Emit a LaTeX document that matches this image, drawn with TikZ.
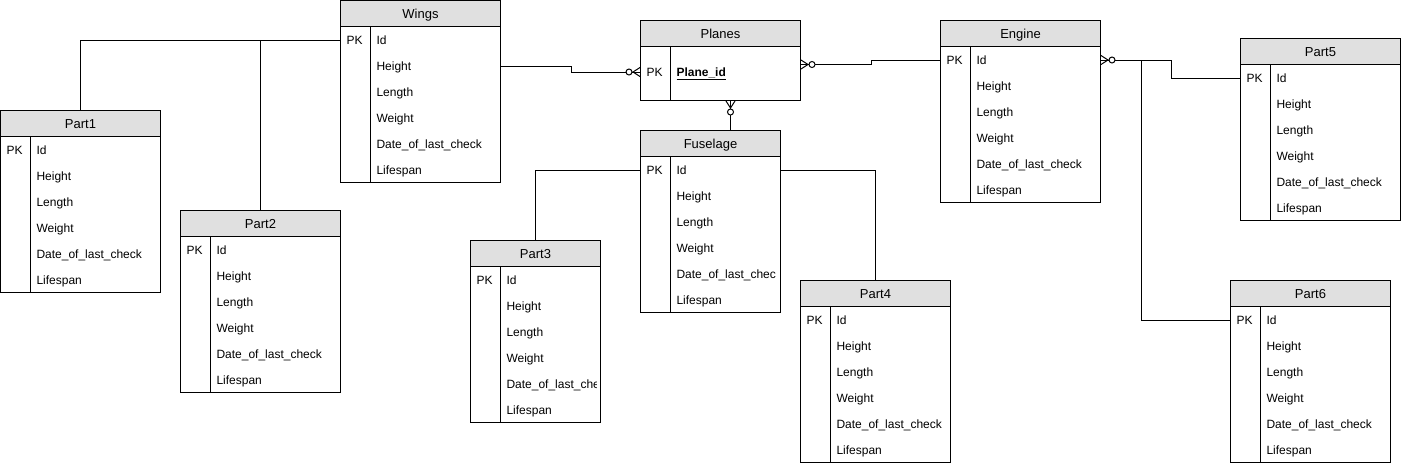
\documentclass[tikz,border=0pt]{standalone}
\usepackage{fontspec}
\setmainfont{Liberation Sans}
\definecolor{hdrgray}{HTML}{E0E0E0}
\tikzset{
  header/.style={draw, fill=hdrgray, anchor=north west, inner sep=0pt,
    minimum height=26pt, text height=9.3pt, text depth=0pt,
    font=\fontsize{13}{15}\selectfont},
  tbody/.style={draw, anchor=north west, inner sep=0pt, minimum height=156pt},
  field/.style={anchor=west, inner sep=0pt, text height=8.6pt, text depth=0pt,
    yshift=-1pt, font=\fontsize{12}{14}\selectfont},
  zeromany/.pic={
    \draw (0,-4.5) -- (7,0) -- (0,4.5);
    \draw (0,0) -- (8,0);
    \draw[fill=white] (11,0) circle [radius=3];
  }
}
\begin{document}
\begin{tikzpicture}[x=1pt, y=-1pt, line width=1pt]
		\useasboundingbox (0,0) rectangle (1401,464);

		% tables
		\node[header, minimum width=160pt] (wings) at (340,0) {Wings};
		\node[tbody, minimum width=160pt] (wingsbody) at (340,26) {};
		\draw (370,26) -- (370,182);
		\node[field] at (346,39) {PK};
		\foreach \f [count=\i] in {Id,Height,Length,Weight,Date\_of\_last\_check,Lifespan}
			\node[field] (wings-\i) at (376,13+26*\i) {\f};

		\node[header, minimum width=160pt] (planes) at (640,20) {Planes};
		\node[tbody, minimum width=160pt, minimum height=54pt] (planesbody) at (640,46) {};
		\draw (670,46) -- (670,100);
		\node[field] at (646,71) {PK};
		\node[field] (planes-1) at (676,71) {\underline{\textbf{Plane\_id}}};

		\node[header, minimum width=160pt] (engine) at (940,20) {Engine};
		\node[tbody, minimum width=160pt] (enginebody) at (940,46) {};
		\draw (970,46) -- (970,202);
		\node[field] at (946,59) {PK};
		\foreach \f [count=\i] in {Id,Height,Length,Weight,Date\_of\_last\_check,Lifespan}
			\node[field] (engine-\i) at (976,33+26*\i) {\f};

		\node[header, minimum width=160pt] (part5) at (1240,38) {Part5};
		\node[tbody, minimum width=160pt] (part5body) at (1240,64) {};
		\draw (1270,64) -- (1270,220);
		\node[field] at (1246,77) {PK};
		\foreach \f [count=\i] in {Id,Height,Length,Weight,Date\_of\_last\_check,Lifespan}
			\node[field] (part5-\i) at (1276,51+26*\i) {\f};

		\node[header, minimum width=160pt] (part1) at (0,110) {Part1};
		\node[tbody, minimum width=160pt] (part1body) at (0,136) {};
		\draw (30,136) -- (30,292);
		\node[field] at (6,149) {PK};
		\foreach \f [count=\i] in {Id,Height,Length,Weight,Date\_of\_last\_check,Lifespan}
			\node[field] (part1-\i) at (36,123+26*\i) {\f};

		\node[header, minimum width=160pt] (part2) at (180,210) {Part2};
		\node[tbody, minimum width=160pt] (part2body) at (180,236) {};
		\draw (210,236) -- (210,392);
		\node[field] at (186,249) {PK};
		\foreach \f [count=\i] in {Id,Height,Length,Weight,Date\_of\_last\_check,Lifespan}
			\node[field] (part2-\i) at (216,223+26*\i) {\f};

		\node[header, minimum width=140pt] (fuselage) at (640,130) {Fuselage};
		\node[tbody, minimum width=140pt] (fuselagebody) at (640,156) {};
		\draw (670,156) -- (670,312);
		\node[field] at (646,169) {PK};
		\begin{scope}
			\clip (640,156) rectangle (775,312);
			\foreach \f [count=\i] in {Id,Height,Length,Weight,Date\_of\_last\_check,Lifespan}
				\node[field] (fuselage-\i) at (676,143+26*\i) {\f};
		\end{scope}

		\node[header, minimum width=130pt] (part3) at (470,240) {Part3};
		\node[tbody, minimum width=130pt] (part3body) at (470,266) {};
		\draw (500,266) -- (500,422);
		\node[field] at (476,279) {PK};
		\begin{scope}
			\clip (470,266) rectangle (596,422);
			\foreach \f [count=\i] in {Id,Height,Length,Weight,Date\_of\_last\_check,Lifespan}
				\node[field] (part3-\i) at (506,253+26*\i) {\f};
		\end{scope}

		\node[header, minimum width=150pt] (part4) at (800,280) {Part4};
		\node[tbody, minimum width=150pt] (part4body) at (800,306) {};
		\draw (830,306) -- (830,462);
		\node[field] at (806,319) {PK};
		\foreach \f [count=\i] in {Id,Height,Length,Weight,Date\_of\_last\_check,Lifespan}
			\node[field] (part4-\i) at (836,293+26*\i) {\f};

		\node[header, minimum width=160pt] (part6) at (1230,280) {Part6};
		\node[tbody, minimum width=160pt] (part6body) at (1230,306) {};
		\draw (1260,306) -- (1260,462);
		\node[field] at (1236,319) {PK};
		\foreach \f [count=\i] in {Id,Height,Length,Weight,Date\_of\_last\_check,Lifespan}
			\node[field] (part6-\i) at (1266,293+26*\i) {\f};

		% relations
		\draw (wingsbody.west |- wings-1.west) -| (part1.north);
		\draw (part2.north) -- (part2.north |- wings-1.west);
		\draw (wingsbody.east |- wings-2.west) -- ++(70,0) |- (planesbody.west |- planes-1.west);
		\draw ([yshift=9pt]planesbody.east) -- ++(70,0) |- (enginebody.west |- engine-1.west);
		\draw ([xshift=10pt]planesbody.south) -- ([xshift=10pt]planesbody.south |- fuselage.north);
		\draw (fuselagebody.west |- fuselage-1.west) -| (part3.north);
		\draw (fuselagebody.east |- fuselage-1.west) -| (part4.north);
		\draw (enginebody.east |- engine-1.west) -- ++(70,0) |- (part5body.west |- part5-1.west);
		\draw ([xshift=40pt]enginebody.east |- engine-1.west) |- (part6body.west |- part6-1.west);

		\pic[rotate=180] at (planesbody.west |- planes-1.west) {zeromany};
		\pic at ([yshift=9pt]planesbody.east) {zeromany};
		\pic[rotate=-90] at ([xshift=10pt]planesbody.south) {zeromany};
		\pic at (enginebody.east |- engine-1.west) {zeromany};
	\end{tikzpicture}
\end{document}
